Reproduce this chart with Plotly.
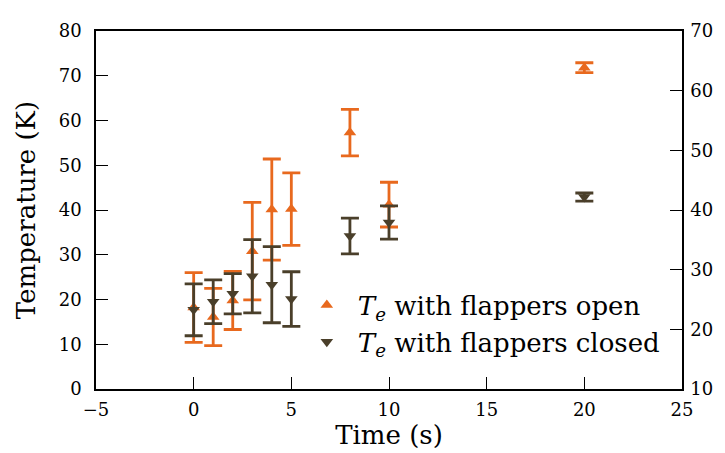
import plotly.graph_objects as go

# Time (s) of each measurement
time_s = [0, 1, 2, 3, 4, 5, 8, 10, 20]

# T_e with flappers open (K) and error
open_temp = [18.2, 16.1, 19.8, 30.8, 40.1, 40.2, 57.3, 41.2, 71.8]
open_err = [7.8, 6.4, 6.5, 10.9, 11.3, 8.1, 5.2, 5.0, 1.1]

# T_e with flappers closed (K) and error
closed_temp = [17.7, 19.5, 21.3, 25.2, 23.3, 20.1, 34.2, 37.2, 42.9]
closed_err = [5.8, 4.9, 4.5, 8.2, 8.5, 6.1, 4.0, 3.7, 0.9]

ORANGE = "#E8691E"
DARK = "#4A3F2A"
FONT = "DejaVu Serif"

fig = go.Figure()

fig.add_trace(go.Scatter(
    x=time_s, y=open_temp,
    mode="markers",
    marker=dict(symbol="triangle-up", size=11, color=ORANGE),
    error_y=dict(type="data", array=open_err, color=ORANGE, thickness=2.8, width=9),
    name="<i>T</i><sub><i>e</i></sub> with flappers open",
))

fig.add_trace(go.Scatter(
    x=time_s, y=closed_temp,
    mode="markers",
    marker=dict(symbol="triangle-down", size=11, color=DARK),
    error_y=dict(type="data", array=closed_err, color=DARK, thickness=2.8, width=9),
    name="<i>T</i><sub><i>e</i></sub> with flappers closed",
))

# invisible trace so the secondary axis is drawn
fig.add_trace(go.Scatter(x=[None], y=[None], yaxis="y2", showlegend=False))

axis_common = dict(
    showgrid=False, zeroline=False,
    showline=True, linecolor="black", linewidth=1.5,
    ticks="inside", ticklen=12, tickwidth=1.2, tickcolor="black",
    tickfont=dict(family=FONT, size=18, color="black"),
)

# the page body adds an 8px offset, so the figure is a little smaller
fig.update_layout(
    width=717, height=445,
    margin=dict(l=88, r=38, t=16, b=63),
    paper_bgcolor="white", plot_bgcolor="white",
    font=dict(family=FONT, color="black"),
    xaxis=dict(range=[-5, 25], dtick=5, mirror=True, ticklabelstandoff=4,
               title=dict(text="Time (s)", font=dict(family=FONT, size=26), standoff=2),
               **axis_common),
    yaxis=dict(range=[0, 80], dtick=10, ticklabelstandoff=9,
               title=dict(text="Temperature (K)", font=dict(family=FONT, size=26), standoff=16),
               **axis_common),
    yaxis2=dict(range=[10, 70], dtick=10, overlaying="y", side="right",
                ticklabelstandoff=3, **axis_common),
    legend=dict(
        x=0.341, y=0.30, xanchor="left", yanchor="top",
        bgcolor="rgba(0,0,0,0)", borderwidth=0,
        font=dict(family=FONT, size=26, color="black"),
        itemwidth=52,
    ),
)

fig.write_html("out.html")
